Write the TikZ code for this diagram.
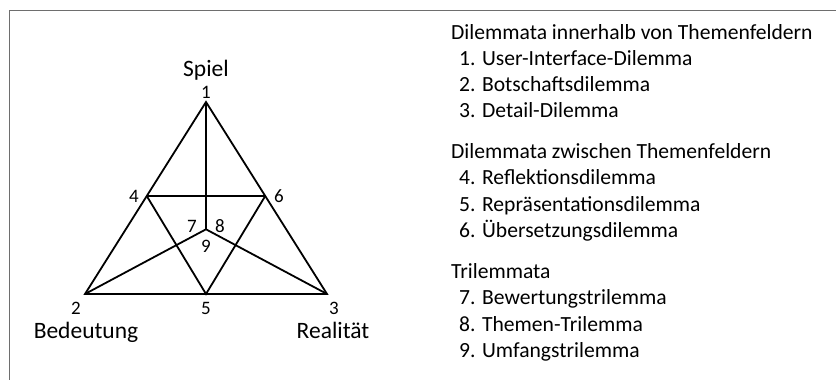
\documentclass[tikz,border=0pt]{standalone}
\usepackage{fontspec}
\usetikzlibrary{calc}
\setmainfont{Carlito}
\definecolor{framegray}{HTML}{6E6E6E}
\begin{document}
\begin{tikzpicture}[x=1pt,y=-1pt,
  lbl/.style={font=\fontsize{23.5}{28}\selectfont, anchor=base, inner sep=0pt},
  num/.style={font=\fontsize{19}{22}\selectfont, anchor=base, inner sep=0pt},
  txt/.style={font=\fontsize{21.6}{26}\selectfont, anchor=base west, inner sep=0pt},
  edge/.style={line width=1.8pt, line join=miter},
  frame/.style={draw=framegray, line width=1pt}]
\useasboundingbox (0,0) rectangle (836,380);
% frame
\coordinate (fr) at (836,10);
\coordinate (fc) at (9,10);
\coordinate (fb) at (9,380);
\draw[frame] (fr) -- (fc) -- (fb);
% points
\coordinate (p1) at (206,102);
\coordinate (p2) at (85,294);
\coordinate (p3) at (327,294);
\coordinate (p4) at ($(p1)!0.4896!(p2)$);
\coordinate (p6) at ($(p1)!0.4896!(p3)$);
\coordinate (p5) at (206,294);
\coordinate (p9) at (206,229.3);
% lines
\draw[edge] (p1) -- (p2) -- (p3) -- cycle;
\draw[edge] (p1) -- (p9);
\draw[edge] (p2) -- (p9) -- (p3);
\draw[edge] (p4) -- (p6);
\draw[edge] (p4) -- (p5) -- (p6);
% labels
\node[lbl] (spiel) at (206,76) {Spiel};
\node[lbl] (bed) at (86,338) {Bedeutung};
\node[lbl] (real) at (333,338) {Realität};
\node[num] (n1) at (206,98) {1};
\node[num] (n2) at (76,314) {2};
\node[num] (n5) at (206,314) {5};
\node[num] (n3) at (334,314) {3};
\node[num] (n4) at (134,202) {4};
\node[num] (n6) at (279,202) {6};
\node[num] (n7) at (192,232) {7};
\node[num] (n8) at (220,232) {8};
\node[num] (n9) at (206,252) {9};
% legend
\node[txt] (h1) at (451,39) {Dilemmata innerhalb von Themenfeldern};
\node[txt] (i1) at (459,65) {1. User-Interface-Dilemma};
\node[txt] (i2) at (459,91) {2. Botschaftsdilemma};
\node[txt] (i3) at (459,117) {3. Detail-Dilemma};
\node[txt] (h2) at (451,158) {Dilemmata zwischen Themenfeldern};
\node[txt] (i4) at (459,184) {4. Reflektionsdilemma};
\node[txt] (i5) at (459,211) {5. Repräsentationsdilemma};
\node[txt] (i6) at (459,237) {6. Übersetzungsdilemma};
\node[txt] (h3) at (451,278) {Trilemmata};
\node[txt] (i7) at (459,304) {7. Bewertungstrilemma};
\node[txt] (i8) at (459,331) {8. Themen-Trilemma};
\node[txt] (i9) at (459,357) {9. Umfangstrilemma};
\end{tikzpicture}
\end{document}
